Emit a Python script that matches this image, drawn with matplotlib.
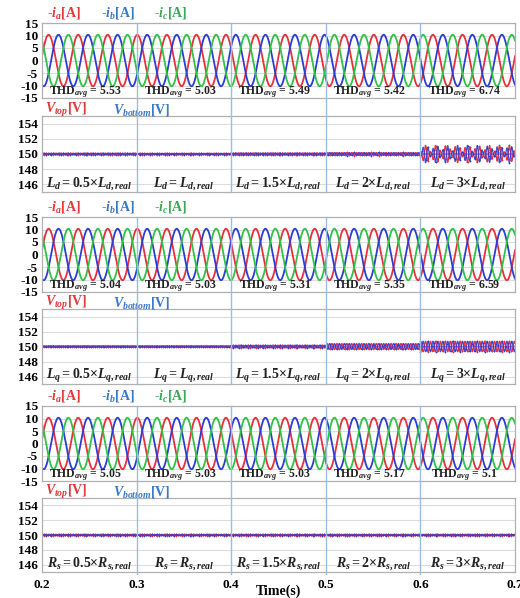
import numpy as np
import matplotlib
matplotlib.use("Agg")
import matplotlib.pyplot as plt
from matplotlib.lines import Line2D

plt.rcParams["font.family"] = "Liberation Serif"
plt.rcParams["font.weight"] = "bold"
plt.rcParams["axes.unicode_minus"] = False
plt.rcParams["mathtext.fontset"] = "custom"
plt.rcParams["mathtext.rm"] = "Liberation Serif:bold"
plt.rcParams["mathtext.it"] = "Liberation Serif:bold:italic"
plt.rcParams["mathtext.bf"] = "Liberation Serif:bold"

# segment boundaries (s) and per-segment results
seg_edges = [0.2, 0.3, 0.4, 0.5, 0.6, 0.7]
scale_factors = ["0.5", "1", "1.5", "2", "3"]
thd_ld = [5.53, 5.03, 5.49, 5.42, 6.74]
thd_lq = [5.04, 5.03, 5.31, 5.35, 6.59]
thd_rs = [5.05, 5.03, 5.03, 5.17, 5.1]
# peak ripple of the dc-link capacitor voltages around 150 V
ripple_ld = [0.12, 0.10, 0.15, 0.20, 1.00]
ripple_lq = [0.10, 0.10, 0.18, 0.40, 0.70]
ripple_rs = [0.10, 0.10, 0.10, 0.10, 0.10]
v_dc_half = 150.0
i_peak = 10.3
f_elec = 32.0  # Hz
t_peak_a = 0.207  # first peak of -ia

C_RED = "#e8303c"
C_BLUE = "#2c3cd4"
C_GREEN = "#2fc247"
C_SEG = "#9dbddc"

t = np.linspace(seg_edges[0], seg_edges[-1], 6000)
seg_idx = np.clip(np.searchsorted(seg_edges, t, side="right") - 1, 0, 4)
w = 2 * np.pi * f_elec
th = w * (t - t_peak_a)
ia = i_peak * np.cos(th)
ib = i_peak * np.cos(th - 2 * np.pi / 3)
ic = i_peak * np.cos(th + 2 * np.pi / 3)

fig = plt.figure(figsize=(5.2, 5.98), dpi=100)
L, W = 42 / 520, 473 / 520


def box(top, bot):
    return [L, 1 - bot / 598, W, (bot - top) / 598]


groups = [
    ("d", thd_ld, ripple_ld, "L", box(23, 98), box(116, 192)),
    ("q", thd_lq, ripple_lq, "L", box(217, 292), box(309, 384)),
    ("s", thd_rs, ripple_rs, "R", box(406, 481), box(498, 572)),
]

for gi, (sub, thd, rip, sym, rc, rv) in enumerate(groups):
    axc = fig.add_axes(rc)
    axv = fig.add_axes(rv)
    for ax in (axc, axv):
        ax.set_xlim(seg_edges[0], seg_edges[-1])
        ax.tick_params(length=0, labelsize=9.5, pad=3)
        for s in ax.spines.values():
            s.set_color("#b0b0b0")
            s.set_linewidth(0.9)
        ax.grid(axis="y", color="#dcdcdc", lw=0.8)
        ax.set_axisbelow(True)
        ax.set_xticks(seg_edges)
        if gi < 2 or ax is axc:
            ax.set_xticklabels([])

    # phase currents
    axc.plot(t, ia, color=C_RED, lw=1.3)
    axc.plot(t, ib, color=C_BLUE, lw=1.3)
    axc.plot(t, ic, color=C_GREEN, lw=1.3)
    axc.set_ylim(-15, 15)
    axc.set_yticks([15, 10, 5, 0, -5, -10, -15])
    for k in range(5):
        xm = 0.5 * (seg_edges[k] + seg_edges[k + 1]) - 0.004
        axc.text(xm, -13.5, rf"THD$_{{avg}}$ = {thd[k]}", ha="center",
                 va="baseline", fontsize=8.5, color="#222222")

    # capacitor voltages
    amp = np.array(rip)[seg_idx]
    carrier = np.sin(6 * w * t)
    if gi == 0:
        env = np.where(seg_idx == 4, np.abs(np.sin(2 * np.pi * 45 * t)) + 0.15, 1.0)
        carrier = carrier * env
    axv.plot(t, v_dc_half + amp * carrier, color=C_RED, lw=0.9)
    axv.plot(t, v_dc_half - amp * carrier, color=C_BLUE, lw=0.9, alpha=0.9)
    ts = t[::24]
    cs = carrier[::24]
    ams = amp[::24]
    axv.plot(ts, v_dc_half + ams * cs, ls="none", marker="+", ms=2, mew=0.5,
             color=C_RED)
    axv.plot(ts, v_dc_half - ams * cs, ls="none", marker="+", ms=2, mew=0.5,
             color=C_BLUE)
    axv.plot(t, np.full(t.size, v_dc_half), color="#5a32b8", lw=1.0, alpha=0.6)
    axv.set_ylim(145, 155)
    axv.set_yticks([154, 152, 150, 148, 146])
    for k in range(5):
        xm = 0.5 * (seg_edges[k] + seg_edges[k + 1])
        f = scale_factors[k]
        rhs = rf"{sym}_{{{sub},real}}" if f == "1" else rf"{f}{{\times}}{sym}_{{{sub},real}}"
        axv.text(xm, 146.1, rf"${sym}_{{{sub}}} = {rhs}$", ha="center",
                 va="center", fontsize=10, color="#222222")

    # segment boundaries spanning current and voltage panels
    top = rc[1] + rc[3]
    bot = rv[1]
    for xe in seg_edges[1:-1]:
        xf = L + W * (xe - seg_edges[0]) / (seg_edges[-1] - seg_edges[0])
        fig.add_artist(Line2D([xf, xf], [bot - (0.004 if gi == 2 else 0), top],
                              color=C_SEG, lw=1.0, zorder=5))

    # channel labels
    y_i = (rc[1] + rc[3]) + 10 / 598
    fig.text(47 / 520, y_i, r"-$i_a$[A]", color="#e03a3a", fontsize=10,
             va="center")
    fig.text(101 / 520, y_i, r"-$i_b$[A]", color="#3a78c8", fontsize=10,
             va="center")
    fig.text(154 / 520, y_i, r"-$i_c$[A]", color="#3aa858", fontsize=10,
             va="center")
    y_v = (rv[1] + rv[3]) + 6 / 598
    fig.text(45 / 520, y_v, r"$V_{top}$[V]", color="#e03a3a", fontsize=10,
             va="center")
    fig.text(113 / 520, y_v, r"$V_{bottom}$[V]", color="#3a78c8",
             fontsize=10, va="center")

    if gi == 2:
        axv.set_xticklabels([f"{x:.1f}" for x in seg_edges])
        axv.tick_params(axis="x", pad=5)

fig.text(279 / 520, 1 - 591 / 598, "Time(s)", ha="center", va="center",
         fontsize=10)

fig.savefig("out.png", dpi=100)
